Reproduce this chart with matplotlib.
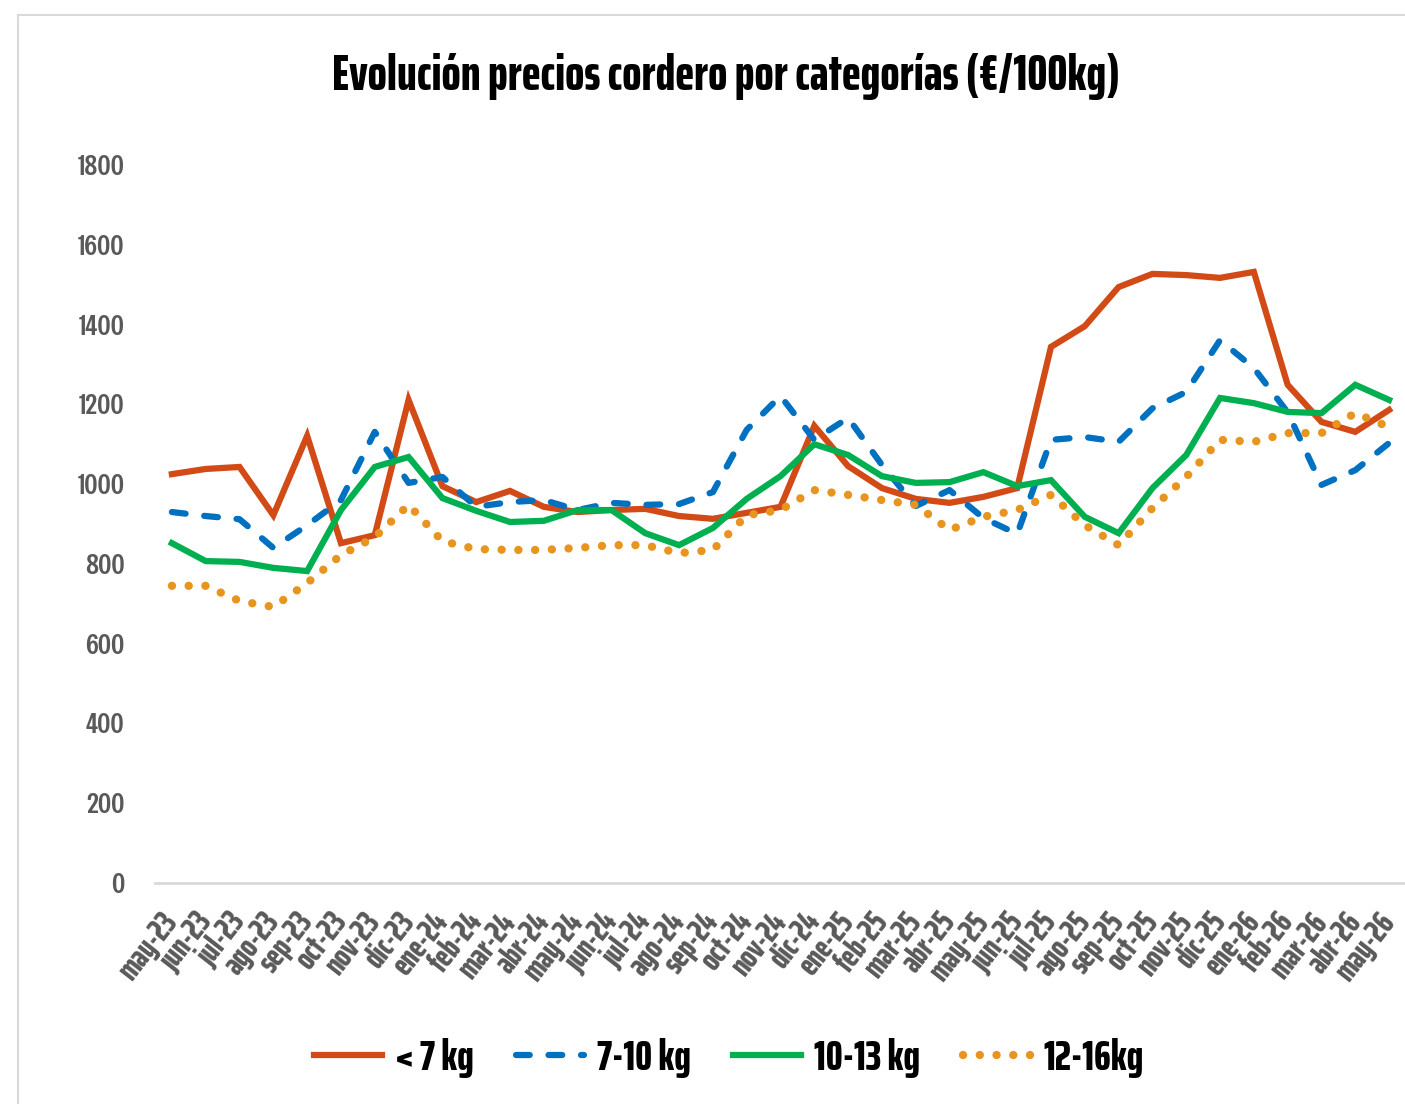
import matplotlib
matplotlib.use('Agg')
import matplotlib.pyplot as plt
from matplotlib.lines import Line2D
from matplotlib import font_manager as fm
from matplotlib.textpath import TextPath


def peso(f):
    w = f.weight
    if isinstance(w, str):
        w = fm.weight_dict.get(w, 400)
    return w


def ancho_em(texto, fp):
    fp = fp.copy()
    fp.set_size(1)
    return TextPath((0, 0), texto, prop=fp).get_extents().width


def fuente_estrecha(negrita, muestra, objetivo):
    # entre las fuentes estrechas, la de anchura (en em) más parecida a la referencia
    cands = []
    vistos = set()
    for f in fm.fontManager.ttflist:
        estrecha = ('Narrow' in f.name or 'Condensed' in f.name
                    or 'condensed' in str(f.stretch))
        if not estrecha or f.style != 'normal' or f.fname in vistos:
            continue
        if not f.fname.lower().endswith(('.ttf', '.otf')):
            continue
        w = peso(f)
        if negrita and not (600 <= w <= 800):
            continue
        if not negrita and w != 400:
            continue
        vistos.add(f.fname)
        fp = fm.FontProperties(fname=f.fname)
        try:
            a = ancho_em(muestra, fp)
        except Exception:
            continue
        cands.append((abs(a - objetivo), f.fname))
    if cands:
        return fm.FontProperties(fname=sorted(cands)[0][1])
    return fm.FontProperties(family='DejaVu Sans', weight='bold' if negrita else 'normal')


TITULO = 'Evolución precios cordero por categorías (€/100kg)'
fp_neg = fuente_estrecha(True, TITULO, 16.0)
fp_reg = fuente_estrecha(False, '1800', 1.55)


def talla(texto, fp, px):
    # tamaño en puntos para que el texto mida px de ancho a 100 dpi
    return px / ancho_em(texto, fp) * 72 / 100


meses = ['may-23','jun-23','jul-23','ago-23','sep-23','oct-23','nov-23','dic-23',
         'ene-24','feb-24','mar-24','abr-24','may-24','jun-24','jul-24','ago-24',
         'sep-24','oct-24','nov-24','dic-24','ene-25','feb-25','mar-25','abr-25',
         'may-25','jun-25','jul-25','ago-25','sep-25','oct-25','nov-25','dic-25',
         'ene-26','feb-26','mar-26','abr-26','may-26']

menos7 = [1025,1038,1043,922,1121,852,872,1211,995,955,983,943,930,935,938,920,
          913,928,943,1146,1045,990,963,953,968,990,1344,1396,1494,1527,1524,1517,
          1532,1249,1156,1131,1186]
de7a10 = [930,920,912,840,897,960,1131,1003,1018,943,955,960,935,953,948,950,
          980,1136,1221,1111,1166,1048,945,985,915,875,1111,1118,1106,1190,1231,1361,
          1291,1180,998,1035,1103]
de10a13 = [852,807,805,790,782,935,1043,1068,965,933,905,908,935,935,877,847,
           890,963,1020,1100,1073,1020,1003,1005,1030,995,1010,918,877,990,1073,1216,
           1203,1181,1178,1249,1211]
de12a16 = [745,745,707,692,752,822,867,948,857,837,835,835,840,847,847,827,
           835,922,935,985,973,960,948,885,918,935,973,897,847,940,1018,1111,
           1106,1128,1128,1178,1143]

nombres = ['< 7 kg', '7-10 kg', '10-13 kg', '12-16kg']
colores = ['#D24B17', '#0070C0', '#00B050', '#E8951F']

W, H = 1405, 1104
fig = plt.figure(figsize=(W/100, H/100), dpi=100)
ax = fig.add_axes([155/W, 1-883/H, 1251/W, (883-165)/H])

x = list(range(len(meses)))
lw = 4.5
lw_p = 6
guiones = (0, (2.2, 3.0))
puntos = (0, (0.01, 2.0))
ax.plot(x, menos7, color=colores[0], lw=lw, solid_joinstyle='miter')
ax.plot(x, de7a10, color=colores[1], lw=lw, linestyle=guiones, dash_capstyle='round')
ax.plot(x, de10a13, color=colores[2], lw=lw, solid_joinstyle='miter')
ax.plot(x, de12a16, color=colores[3], lw=lw_p, linestyle=puntos, dash_capstyle='round')

ax.set_xlim(-0.5, len(meses)-0.5)
ax.set_ylim(0, 1800)
ax.set_yticks(range(0, 1801, 200))
ax.set_xticks(x)
fp_x = fp_neg.copy()
fp_x.set_size(talla('may-23', fp_neg, 74))
ax.set_xticklabels(meses, rotation=52, ha='right', va='center', rotation_mode='anchor',
                   fontproperties=fp_x, color='#595959')
fp_y = fp_reg.copy()
fp_y.set_size(talla('1800', fp_reg, 46))
for lab in ax.get_yticklabels():
    lab.set_fontproperties(fp_y)
    lab.set_color('#595959')
ax.tick_params(axis='y', length=0, pad=22)
ax.tick_params(axis='x', length=0, pad=24)
for s in ['top', 'right', 'left']:
    ax.spines[s].set_visible(False)
ax.spines['bottom'].set_color('#D9D9D9')
ax.spines['bottom'].set_linewidth(2)

fp_t = fp_neg.copy()
fp_t.set_size(talla(TITULO, fp_neg, 783))
fig.text(726/W, 1-76/H, TITULO, ha='center', va='center', fontproperties=fp_t,
         color='black')

# marco del gráfico
fig.add_artist(Line2D([18/W, 18/W], [0, 1-15/H], color='#D9D9D9', lw=1.5))
fig.add_artist(Line2D([18/W, 1], [1-15/H, 1-15/H], color='#D9D9D9', lw=1.5))

handles = [
    Line2D([], [], color=colores[0], lw=lw),
    Line2D([], [], color=colores[1], lw=lw, linestyle=guiones, dash_capstyle='round'),
    Line2D([], [], color=colores[2], lw=lw),
    Line2D([], [], color=colores[3], lw=lw_p, linestyle=puntos, dash_capstyle='round'),
]
fp_l = fp_neg.copy()
fp_l.set_size(talla('10-13 kg', fp_neg, 104))
fig.legend(handles, nombres, loc='center', bbox_to_anchor=(729/W, 1-1058/H),
           ncol=4, frameon=False, handlelength=1.6, handletextpad=0.3,
           columnspacing=1.0, prop=fp_l)

fig.savefig('out.png', dpi=100, facecolor='white')
